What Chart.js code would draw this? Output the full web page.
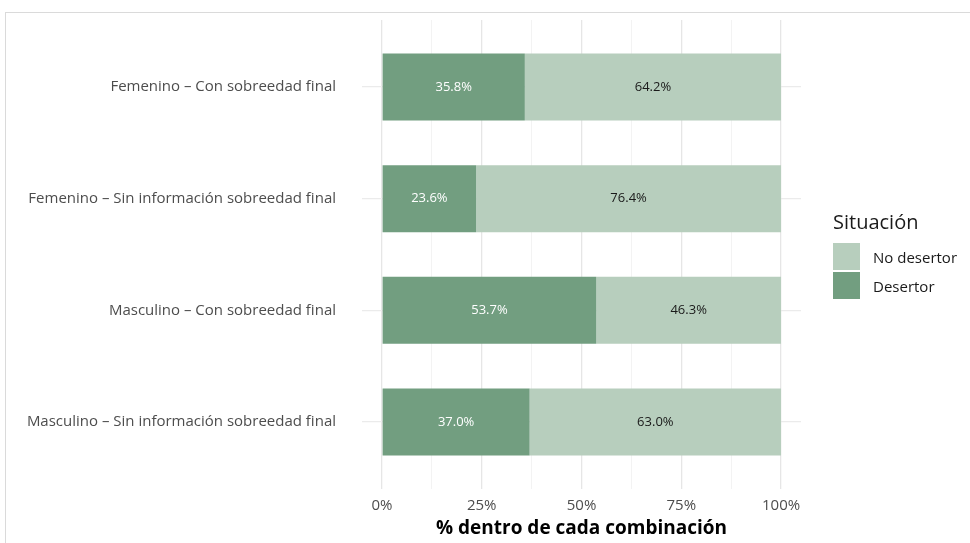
<!DOCTYPE html>
<html>
<head>
<meta charset="utf-8">
<script src="https://cdn.jsdelivr.net/npm/chart.js@4"></script>
<style>
  html, body { margin: 0; padding: 0; background: #fff; overflow: hidden; }
  #wrap { position: relative; width: 970px; height: 543px; }
  #frame { position: absolute; left: 5px; top: 12px; width: 1000px; height: 600px; border: 1px solid #dadada; }
  #chart { position: absolute; left: 0; top: 0; }
  #legend { position: absolute; left: 833px; top: 207px; font-family: "Open Sans", sans-serif; color: #1a1a1a; }
  #legend .title { font-size: 20px; line-height: 29px; margin-bottom: 6px; }
  #legend .item { display: flex; align-items: center; height: 29px; font-size: 15px; }
  #legend .key { width: 27px; height: 27px; margin-right: 13px; }
</style>
</head>
<body>
<div id="wrap">
  <div id="frame"></div>
  <canvas id="chart" width="970" height="543"></canvas>
  <div id="legend"></div>
</div>
<script>
// Combinaciones (eje Y), de arriba a abajo
const categories = [
  'Femenino – Con sobreedad final',
  'Femenino – Sin información sobreedad final',
  'Masculino – Con sobreedad final',
  'Masculino – Sin información sobreedad final',
];
// % dentro de cada combinación
const desertor = [35.8, 23.6, 53.7, 37.0];
const noDesertor = [64.2, 76.4, 46.3, 63.0];
// Marcas del eje X (mayores cada 25, menores en medio)
const xTicks = [0, 12.5, 25, 37.5, 50, 62.5, 75, 87.5, 100];
const seriesNames = ['Desertor', 'No desertor'];

const COLORS = { dark: '#729e80', light: '#b7cebd' };
const FONT = '"Open Sans", sans-serif';

const toPoints = (vals) => vals.map((v, i) => ({ x: v, y: i + 1 }));

// Etiquetas dentro de cada segmento
const barLabels = {
  id: 'barLabels',
  afterDatasetsDraw(chart) {
    const ctx = chart.ctx;
    ctx.save();
    ctx.font = '13px ' + FONT;
    ctx.textAlign = 'center';
    ctx.textBaseline = 'middle';
    chart.data.datasets.forEach((ds, di) => {
      const meta = chart.getDatasetMeta(di);
      ctx.fillStyle = ds.labelColor;
      meta.data.forEach((el, i) => {
        const c = el.getCenterPoint();
        ctx.fillText(ds.data[i].x.toFixed(1) + '%', c.x, c.y);
      });
    });
    ctx.restore();
  },
};

const datasets = [
  { label: seriesNames[0], data: toPoints(desertor), backgroundColor: COLORS.dark, labelColor: '#ffffff' },
  { label: seriesNames[1], data: toPoints(noDesertor), backgroundColor: COLORS.light, labelColor: '#1a1a1a' },
].map((d) => ({ ...d, borderWidth: 0, categoryPercentage: 1, barPercentage: 0.6 }));

new Chart(document.getElementById('chart'), {
  type: 'bar',
  data: { datasets },
  plugins: [barLabels],
  options: {
    indexAxis: 'y',
    responsive: false,
    animation: false,
    events: [],
    layout: { padding: { top: 20, right: 169, bottom: 0, left: 0 } },
    plugins: { legend: { display: false }, tooltip: { enabled: false } },
    scales: {
      x: {
        type: 'linear',
        stacked: true,
        min: -5,
        max: 105,
        afterBuildTicks(scale) { scale.ticks = xTicks.map((v) => ({ value: v })); },
        afterFit(scale) { scale.height = 54; },
        border: { display: false },
        grid: {
          drawTicks: false,
          color: (c) => (c.tick && c.tick.value % 25 === 0 ? '#e6e6e6' : '#f0f0f0'),
          lineWidth: (c) => (c.tick && c.tick.value % 25 === 0 ? 1.3 : 0.8),
        },
        ticks: {
          padding: 8,
          color: '#4d4d4d',
          font: { family: FONT, size: 15 },
          callback: (v) => (v % 25 === 0 ? v + '%' : ''),
        },
        title: {
          display: true,
          text: '% dentro de cada combinación',
          color: '#000',
          font: { family: FONT, size: 19, weight: 'bold' },
          padding: { top: 0, bottom: 3 },
        },
      },
      y: {
        type: 'linear',
        stacked: true,
        reverse: true,
        offset: false,
        min: 0.4,
        max: 4.6,
        afterBuildTicks(scale) { scale.ticks = categories.map((_, i) => ({ value: i + 1 })); },
        afterFit(scale) {
          scale.width = 362;
          scale.paddingTop = 0;
          scale.paddingBottom = 0;
        },
        border: { display: false },
        grid: { drawTicks: false, offset: false, color: '#ebebeb', lineWidth: 1.3 },
        ticks: {
          padding: 26,
          color: '#4d4d4d',
          font: { family: FONT, size: 15 },
          callback: (v) => categories[v - 1],
        },
      },
    },
  },
});

// Leyenda (orden: No desertor, Desertor)
const legend = document.getElementById('legend');
legend.innerHTML = '<div class="title">Situación</div>' +
  datasets.slice().reverse().map((d) =>
    '<div class="item"><span class="key" style="background:' + d.backgroundColor + '"></span>' + d.label + '</div>'
  ).join('');
</script>
</body>
</html>
